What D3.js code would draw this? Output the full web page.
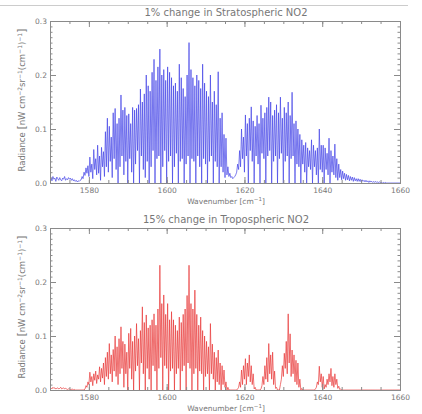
<!DOCTYPE html>
<html><head><meta charset="utf-8">
<script src="https://cdn.jsdelivr.net/npm/d3@7"></script>
<style>body{margin:0;background:#fff}svg{display:block}text{font-family:"DejaVu Sans",sans-serif;fill:#777}</style>
</head><body>
<svg id="c" width="422" height="414"></svg>
<script>
// Sampling grid of the spectra (wavenumber, cm^-1)
const wnStart = 1570, wnStep = 0.25;
const xTicks = [1580, 1600, 1620, 1640, 1660];
const yTicks = [0, 0.1, 0.2, 0.3];
const titles = ["1% change in Stratospheric NO2", "15% change in Tropospheric NO2"];

// Radiance change, 1% Stratospheric NO2 (values every 0.25 cm^-1 from 1570)
const stratVals = [
.006,.010,.004,.012,.007,.009,.003,.011,.008,.005,.010,.006,.004,.009,.007,.012,.005,.008,.006,.010,
.007,.009,.005,.008,.004,.006,.003,.005,.002,.004,.003,.005,.006,.012,.008,.020,.014,.028,.018,.032,
.012,.048,.020,.035,.008,.062,.025,.045,.015,.070,.018,.050,.005,.066,.030,.058,.012,.095,.030,.120,
.020,.105,.040,.085,.010,.130,.045,.138,.025,.110,.000,.120,.030,.163,.050,.135,.015,.140,.040,.125,
.000,.128,.045,.110,.020,.140,.000,.135,.035,.138,.060,.145,.000,.174,.050,.150,.025,.165,.010,.200,
.040,.180,.000,.170,.030,.205,.060,.229,.000,.190,.045,.215,.050,.248,.000,.200,.030,.210,.060,.190,
.000,.215,.040,.205,.050,.195,.000,.180,.030,.185,.055,.170,.000,.220,.040,.195,.045,.175,.000,.160,
.035,.200,.050,.260,.000,.210,.045,.195,.040,.180,.000,.200,.050,.190,.030,.175,.000,.220,.045,.185,
.035,.170,.000,.160,.040,.200,.050,.150,.000,.170,.040,.145,.030,.206,.000,.120,.030,.130,.020,.090,
.010,.083,.015,.030,.012,.018,.010,.012,.008,.010,.012,.015,.020,.035,.025,.060,.030,.100,.045,.085,
.020,.126,.050,.110,.000,.120,.060,.141,.040,.115,.000,.105,.050,.125,.035,.110,.000,.144,.055,.120,
.045,.130,.000,.140,.050,.159,.060,.150,.000,.125,.040,.135,.050,.145,.000,.130,.045,.159,.055,.120,
.000,.140,.040,.130,.050,.150,.000,.125,.045,.168,.050,.110,.000,.115,.035,.100,.030,.090,.000,.080,
.035,.070,.020,.075,.000,.065,.030,.060,.025,.080,.000,.070,.030,.060,.015,.065,.000,.100,.025,.070,
.020,.070,.000,.065,.025,.055,.015,.083,.000,.060,.020,.050,.015,.072,.010,.045,.005,.035,.010,.025,
.006,.022,.008,.018,.005,.016,.006,.014,.004,.012,.005,.011,.003,.010,.004,.008,.003,.008,.003,.007,
.002,.006,.003,.005,.002,.005,.002,.004,.001,.004,.002,.003,.001,.003,.001,.003,.001,.002,.001,.002,
.001,.001,.000,.001,.000,.001,.000,.000,.000,.000,.000,.000,.000,.000,.000,.000,.000,.000,.000,.000,
.000
];

// Radiance change, 15% Tropospheric NO2 (values every 0.25 cm^-1 from 1570)
const tropVals = [
.003,.004,.002,.005,.003,.004,.002,.003,.004,.002,.003,.005,.002,.003,.004,.002,.003,.002,.001,.002,
.002,.001,.001,.002,.000,.001,.000,.000,.000,.000,.000,.000,.000,.000,.000,.000,.002,.008,.005,.015,
.010,.033,.015,.025,.008,.030,.018,.035,.012,.028,.020,.043,.015,.040,.022,.050,.010,.060,.025,.070,
.020,.086,.030,.065,.015,.075,.035,.100,.025,.080,.010,.095,.030,.117,.040,.090,.005,.085,.030,.070,
.000,.105,.040,.114,.020,.090,.000,.100,.035,.123,.045,.095,.000,.110,.050,.154,.030,.125,.000,.139,
.040,.115,.020,.120,.000,.130,.045,.141,.035,.120,.000,.150,.040,.231,.060,.160,.000,.176,.045,.140,
.040,.160,.000,.130,.035,.145,.040,.130,.000,.120,.030,.110,.040,.135,.000,.125,.035,.140,.045,.150,
.000,.175,.050,.231,.040,.160,.000,.150,.030,.185,.040,.140,.000,.120,.035,.135,.030,.110,.000,.100,
.025,.090,.030,.080,.000,.123,.030,.085,.020,.070,.000,.060,.015,.074,.010,.050,.000,.045,.010,.037,
.005,.015,.000,.005,.000,.000,.000,.000,.000,.000,.000,.000,.000,.002,.005,.015,.005,.037,.010,.045,
.020,.058,.010,.050,.025,.065,.015,.045,.010,.030,.002,.005,.000,.000,.000,.000,.000,.002,.008,.025,
.010,.045,.020,.060,.015,.086,.030,.065,.020,.070,.010,.035,.003,.005,.000,.000,.000,.010,.020,.045,
.025,.068,.040,.090,.030,.141,.050,.104,.025,.074,.030,.065,.015,.055,.010,.050,.005,.020,.000,.003,
.000,.000,.000,.000,.000,.000,.000,.000,.000,.000,.000,.000,.000,.002,.005,.015,.010,.044,.015,.030,
.005,.025,.002,.010,.005,.020,.010,.030,.015,.040,.008,.025,.005,.030,.010,.020,.003,.007,.001,.002,
.000,.000,.000,.000,.000,.000,.000,.000,.000,.000,.000,.000,.000,.000,.000,.000,.000,.000,.000,.000,
.000,.000,.000,.000,.000,.000,.000,.000,.000,.000,.000,.000,.000,.000,.000,.000,.000,.000,.000,.000,
.000,.000,.000,.000,.000,.000,.000,.000,.000,.000,.000,.000,.000,.000,.000,.000,.000,.000,.000,.000,
.000
];

const svg = d3.select("#c");
svg.append("line").attr("x1", 0).attr("x2", 408).attr("y1", 5.5).attr("y2", 5.5)
  .attr("stroke", "#ccc").attr("stroke-width", 1);

const left = 50, right = 400;
const x = d3.scaleLinear().domain([1570, 1660]).range([left, right]);
const axisColor = "#8a8a8a";

function panel(top, bottom, vals, color, title, id) {
  const y = d3.scaleLinear().domain([0, 0.3]).range([bottom, top]);
  const g = svg.append("g");
  const data = vals.map((v, i) => ({wn: wnStart + i * wnStep, v}));

  g.append("clipPath").attr("id", id).append("rect")
    .attr("x", left).attr("y", top - 1).attr("width", right - left).attr("height", bottom - top + 2);

  g.append("path").datum(data)
    .attr("clip-path", `url(#${id})`)
    .attr("fill", "none").attr("stroke", color).attr("stroke-width", 0.7)
    .attr("stroke-linejoin", "round")
    .attr("d", d3.line().x(d => x(d.wn)).y(d => y(d.v)));

  const style = s => { s.select(".domain").attr("stroke", axisColor);
    s.selectAll(".tick line").attr("stroke", axisColor);
    s.selectAll("text").attr("fill", "#777").style("font-size", "7.5px").attr("font-family", "DejaVu Sans"); };

  const xMinor = d3.range(1570, 1661, 5);
  const yMinor = d3.range(0, 31).map(i => i / 100);

  g.append("g").attr("transform", `translate(0,${bottom})`)
    .call(d3.axisBottom(x).tickValues(xMinor).tickSize(-3).tickFormat("")).call(style);
  g.append("g").attr("transform", `translate(0,${top})`)
    .call(d3.axisTop(x).tickValues(xMinor).tickSize(-3).tickFormat("")).call(style);
  g.append("g").attr("transform", `translate(${left},0)`)
    .call(d3.axisLeft(y).tickValues(yMinor).tickSize(-2.5).tickFormat("")).call(style);
  g.append("g").attr("transform", `translate(${right},0)`)
    .call(d3.axisRight(y).tickValues(yMinor).tickSize(-2.5).tickFormat("")).call(style);

  g.append("g").attr("transform", `translate(0,${bottom})`)
    .call(d3.axisBottom(x).tickValues(xTicks).tickSize(-6).tickPadding(5).tickFormat(d3.format("d"))).call(style);
  g.append("g").attr("transform", `translate(0,${top})`)
    .call(d3.axisTop(x).tickValues(xTicks).tickSize(-6).tickFormat("")).call(style);
  g.append("g").attr("transform", `translate(${left},0)`)
    .call(d3.axisLeft(y).tickValues(yTicks).tickSize(-6).tickPadding(3).tickFormat(d3.format(".1f"))).call(style);
  g.append("g").attr("transform", `translate(${right},0)`)
    .call(d3.axisRight(y).tickValues(yTicks).tickSize(-6).tickFormat("")).call(style);

  g.append("text").attr("x", 226).attr("y", top - 5).attr("text-anchor", "middle")
    .style("font-size", "10px").attr("fill", "#6a6a6a").text(title);

  const xl = g.append("text").attr("x", 226).attr("y", bottom + 21).attr("text-anchor", "middle")
    .style("font-size", "7.5px");
  xl.append("tspan").text("Wavenumber [cm");
  xl.append("tspan").attr("dy", -3).style("font-size", "5.5px").text("−1");
  xl.append("tspan").attr("dy", 3).text("]");

  const cy = (top + bottom) / 2 - 2;
  const yl = g.append("text").attr("transform", `translate(25,${cy}) rotate(-90)`)
    .attr("text-anchor", "middle").style("font-size", "8.5px");
  yl.append("tspan").text("Radiance ");
  yl.append("tspan").style("font-size", "11px").text("[");
  yl.append("tspan").text("nW cm");
  yl.append("tspan").attr("dy", -3.5).style("font-size", "6px").text("−2");
  yl.append("tspan").attr("dy", 3.5).text("sr");
  yl.append("tspan").attr("dy", -3.5).style("font-size", "6px").text("−1");
  yl.append("tspan").attr("dy", 3.5).text("(cm");
  yl.append("tspan").attr("dy", -3.5).style("font-size", "6px").text("−1");
  yl.append("tspan").attr("dy", 3.5).text(")");
  yl.append("tspan").attr("dy", -3.5).style("font-size", "6px").text("−1");
  yl.append("tspan").attr("dy", 3.5).style("font-size", "11px").text("]");
}

panel(21, 183, stratVals, "#4444e6", titles[0], "clipA");
panel(228, 390, tropVals, "#e83838", titles[1], "clipB");
</script>
</body></html>
